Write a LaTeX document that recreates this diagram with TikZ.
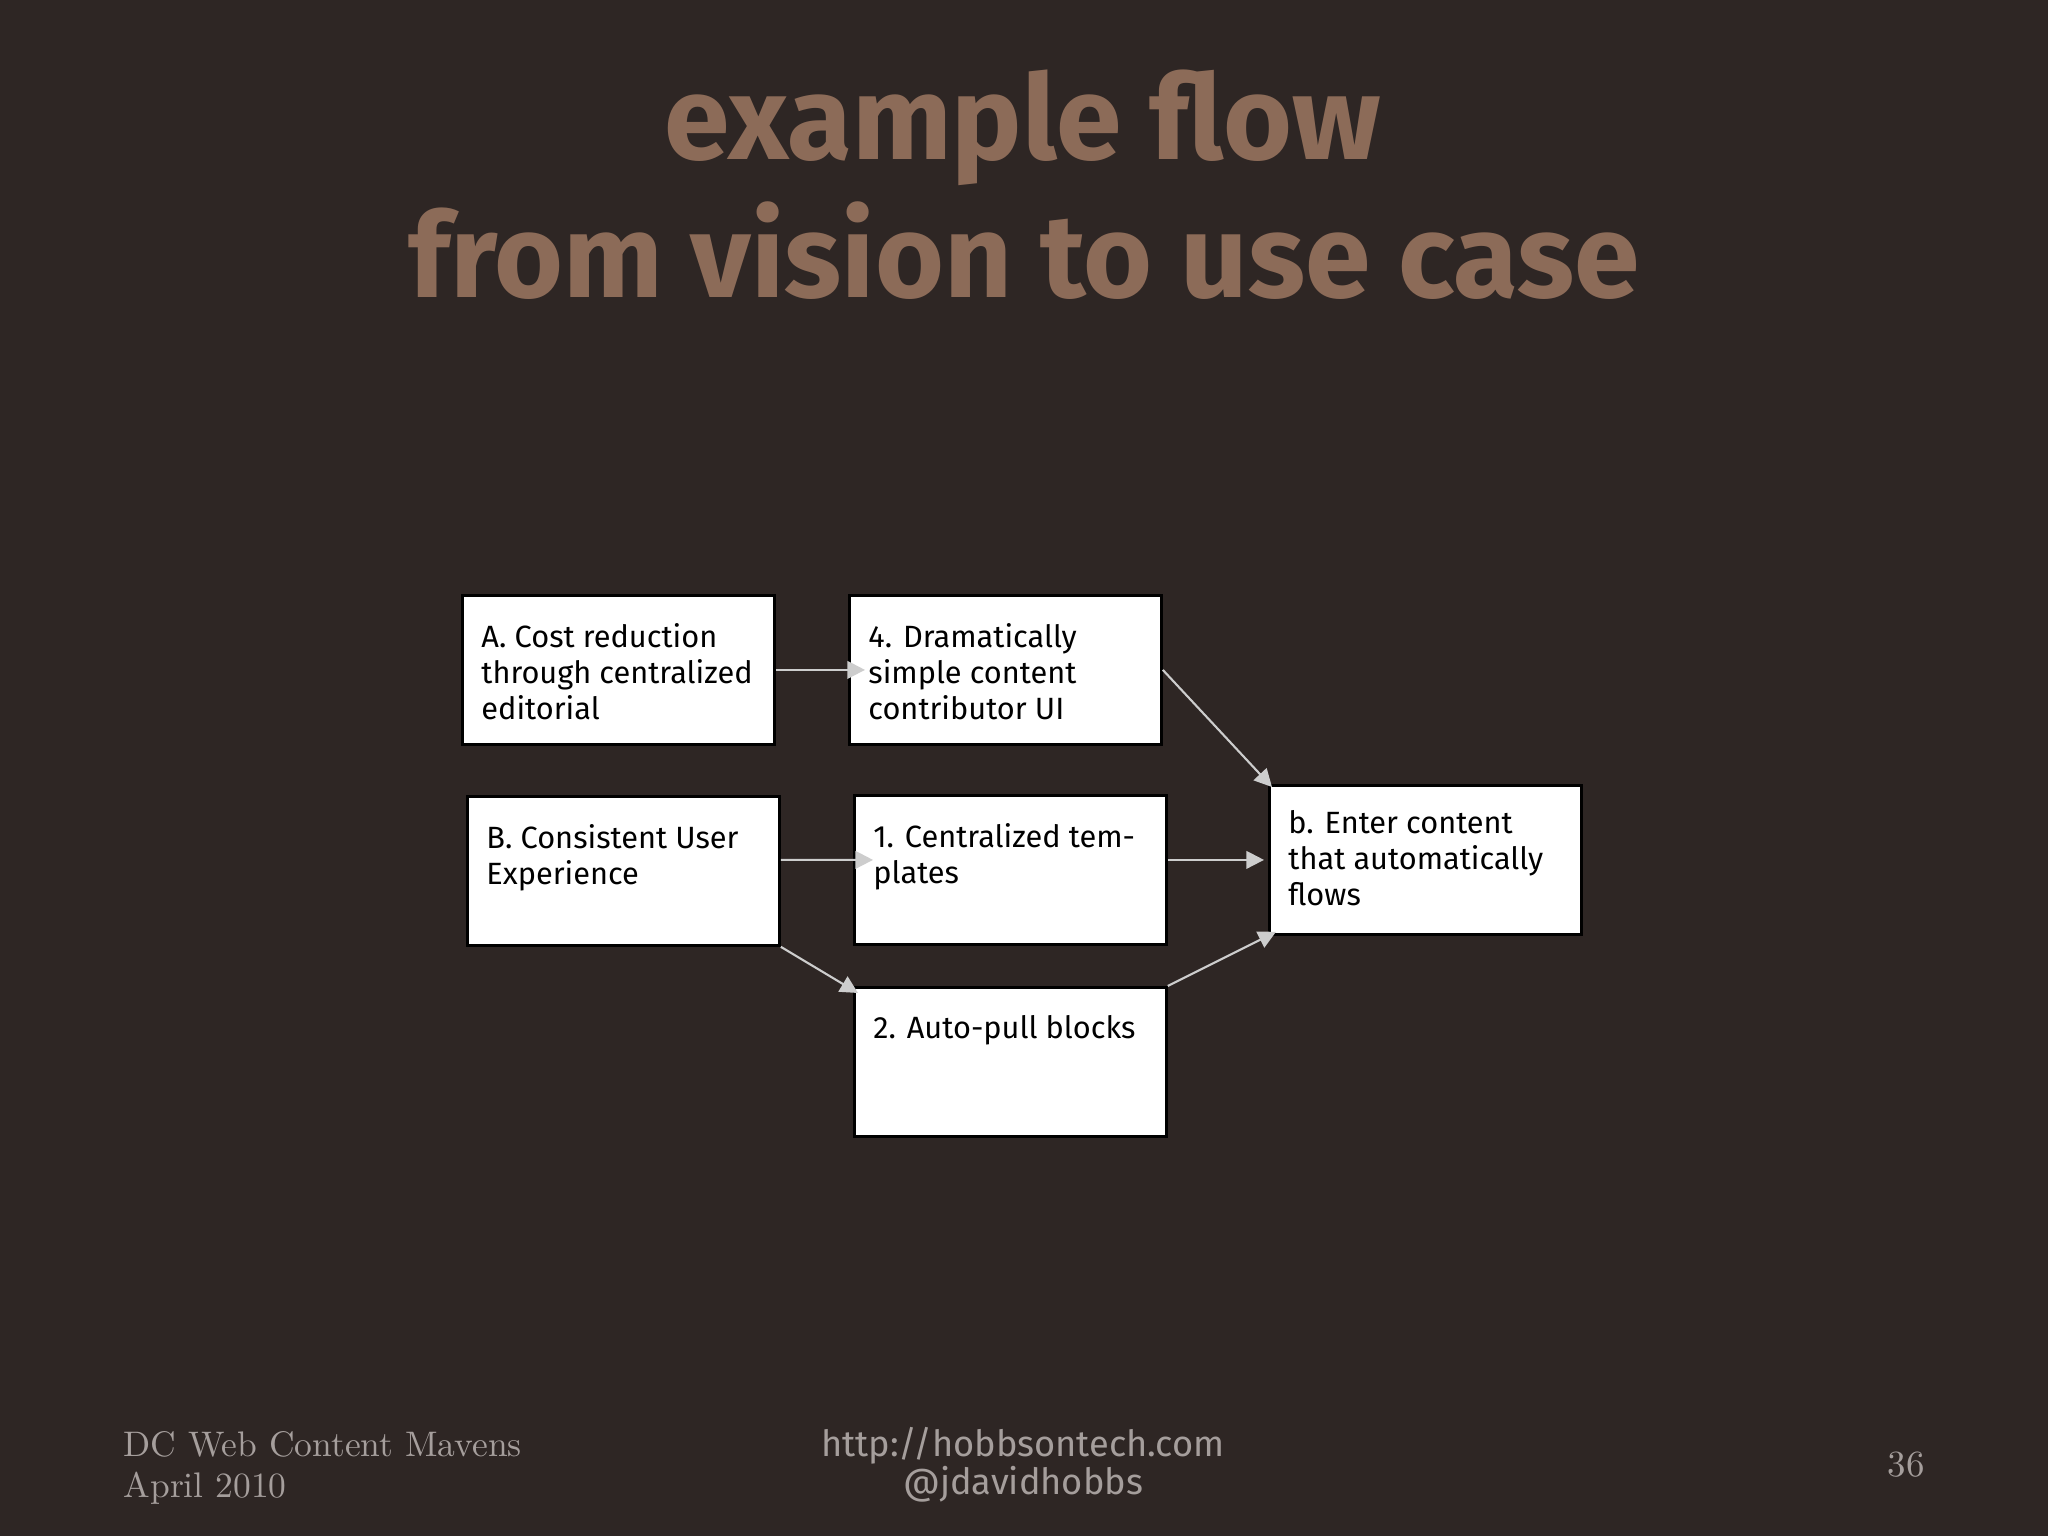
\documentclass[tikz,border=0pt]{standalone}
\usepackage{fontspec}
\usetikzlibrary{arrows.meta}

\newfontfamily\sansfam{Fira Sans}
\definecolor{slidebg}{RGB}{46,38,36}
\definecolor{titlebrown}{RGB}{140,107,88}
\definecolor{footgrey}{RGB}{165,158,156}
\definecolor{arrowgrey}{RGB}{205,205,205}

\newcommand{\cardtext}[1]{\parbox[c][1.49cm][t]{2.74cm}{\raggedright\vspace*{0.28cm}#1}}

\begin{document}
\begin{tikzpicture}[
    card/.style={draw=black, line width=0.8pt, fill=white, anchor=north west,
      minimum width=3.12cm, minimum height=1.49cm, inner sep=0pt,
      font=\sansfam\fontsize{8.75}{10.2}\selectfont},
    flow/.style={draw=arrowgrey, line width=0.6pt, -{Triangle[length=5pt,width=5pt]}},
    headline/.style={anchor=base, text=titlebrown, font=\sansfam\bfseries\fontsize{33.6}{40}\selectfont},
    foot/.style={text=footgrey, inner sep=0pt}
  ]
    \useasboundingbox (0,0) rectangle (20.48,-15.36);
    \fill [slidebg] (0,0) rectangle (20.48,-15.36);

    % title
    \node [headline] (title1) at (10.23,-1.60) {example flow};
    \node [headline] (title2) at (10.24,-2.98) {from vision to use case};

    % boxes
    \node [card] (costA) at (4.61,-5.94) {\cardtext{A. Cost reduction\\ through centralized\\ editorial}};
    \node [card] (simple4) at (8.48,-5.94) {\cardtext{4. Dramatically\\ simple content\\ contributor UI}};
    \node [card] (consistB) at (4.66,-7.95) {\cardtext{B. Consistent User\\ Experience}};
    \node [card] (templ1) at (8.53,-7.94) {\cardtext{1. Centralized tem-\\ plates}};
    \node [card] (autopull2) at (8.53,-9.86) {\cardtext{2. Auto-pull blocks}};
    \node [card] (enterb) at (12.68,-7.84) {\cardtext{\vspace*{-0.03cm}b. Enter content\\ that automatically\\ flows}};

    % connectors
    \draw [flow] (costA.east) -- ([xshift=0.17cm]simple4.west);
    \draw [flow] (simple4.east) -- ([shift={(0.04,-0.03)}]enterb.north west);
    \draw [flow] ([yshift=0.11cm]consistB.east) -- ([shift={(0.2,0.1)}]templ1.west);
    \draw [flow] (templ1.east |- enterb.west) -- ([xshift=-0.04cm]enterb.west);
    \draw [flow] (consistB.south east) -- ([shift={(0.05,-0.07)}]autopull2.north west);
    \draw [flow] (autopull2.north east) -- ([shift={(0.08,0.04)}]enterb.south west);

    % footer
    \node [foot, anchor=base west, font=\fontsize{10.1}{12}\selectfont] (event) at (1.23,-14.56) {DC Web Content Mavens};
    \node [foot, anchor=base west, font=\fontsize{10.1}{12}\selectfont] (date) at (1.23,-14.97) {April 2010};
    \node [foot, anchor=base, font=\sansfam\fontsize{10.3}{12}\selectfont] (url) at (10.23,-14.56) {http://hobbsontech.com};
    \node [foot, anchor=base, font=\sansfam\fontsize{10.3}{12}\selectfont] (handle) at (10.23,-14.94) {@jdavidhobbs};
    \node [foot, font=\fontsize{10.5}{12}\selectfont] (page) at (19.06,-14.65) {36};
\end{tikzpicture}
\end{document}
